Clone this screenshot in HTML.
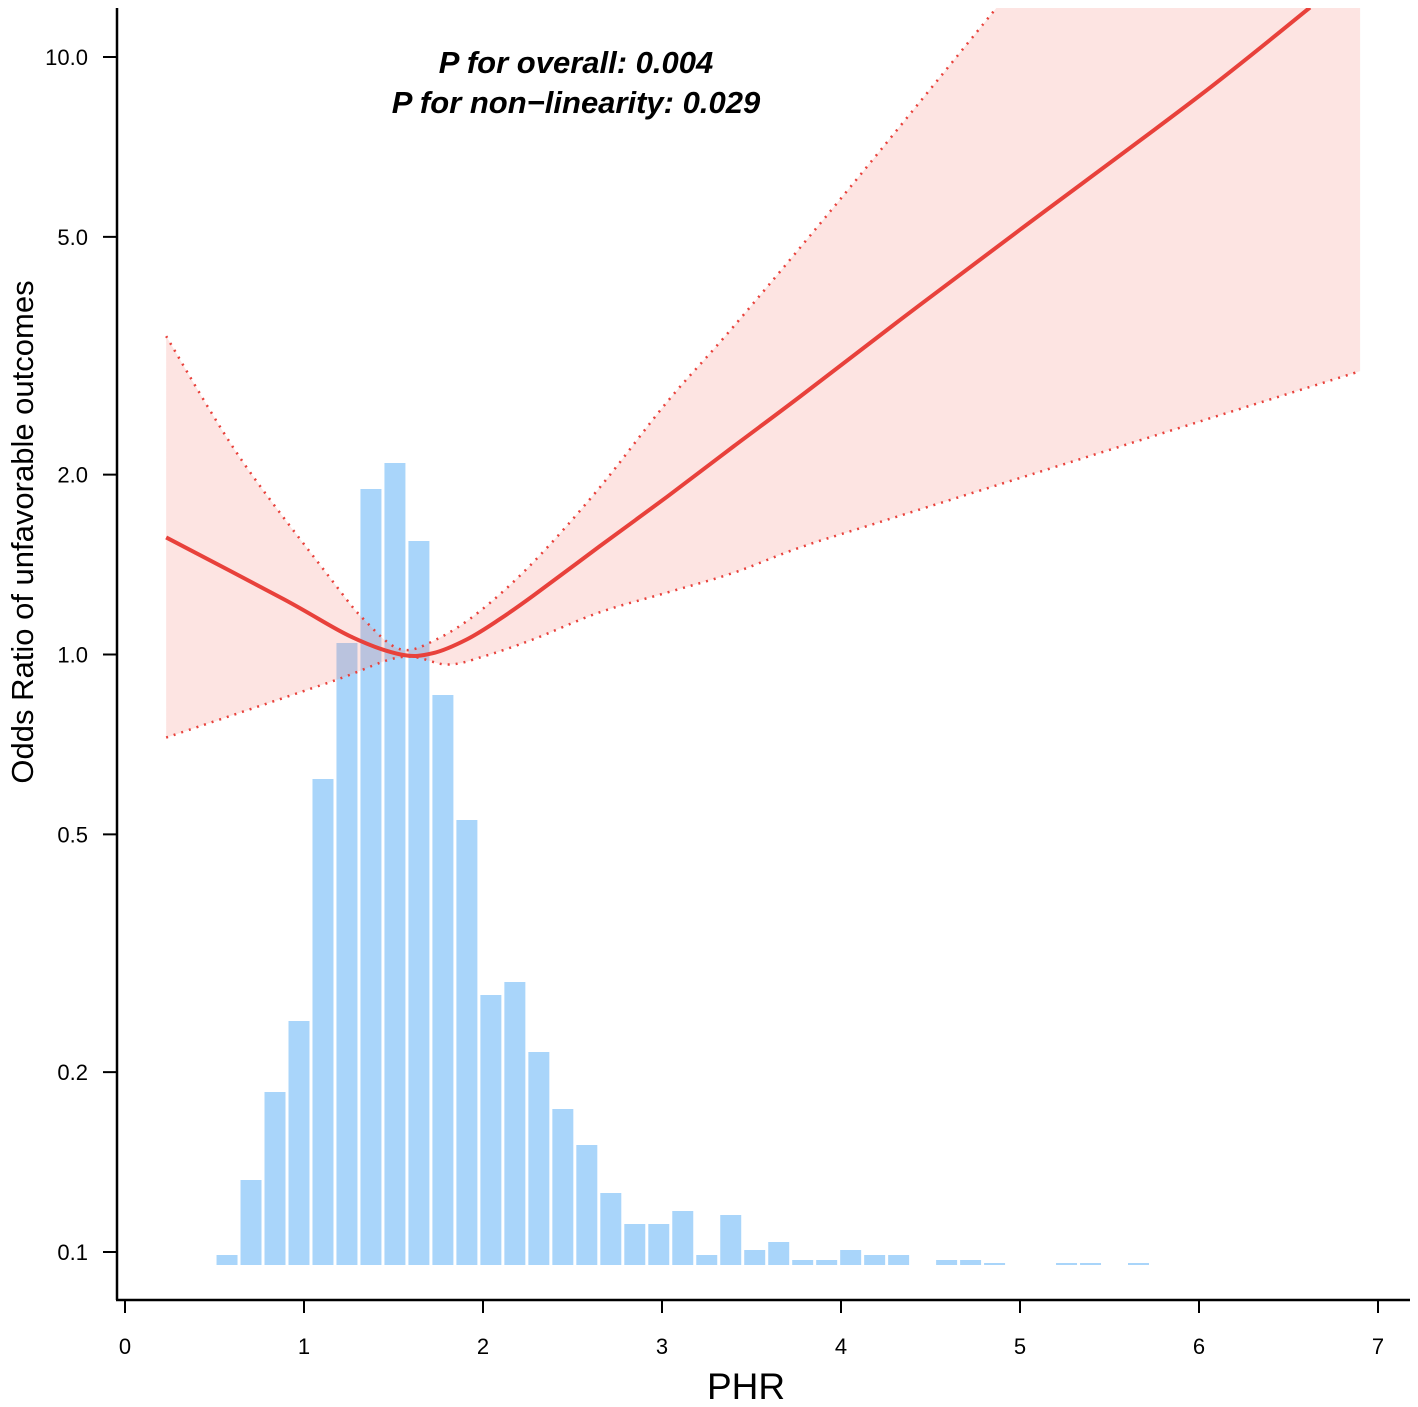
<!DOCTYPE html>
<html><head><meta charset="utf-8"><style>
html,body{margin:0;padding:0;background:#fff;}
svg{display:block;font-family:"Liberation Sans",Arial,sans-serif;}
</style></head><body>
<svg id="chart" width="1418" height="1407" viewBox="0 0 1418 1407">
<defs><clipPath id="plotclip"><rect x="118" y="8" width="1292" height="1290"/></clipPath></defs>
<g id="bars"></g>
<g id="curves" clip-path="url(#plotclip)"></g>
<g id="axes"></g>
<text x="576" y="73" text-anchor="middle" font-size="31" font-weight="bold" font-style="italic">P for overall: 0.004</text>
<text x="576" y="113" text-anchor="middle" font-size="31" font-weight="bold" font-style="italic">P for non−linearity: 0.029</text>
<text x="746" y="1399" text-anchor="middle" font-size="37">PHR</text>
<text transform="translate(33,532) rotate(-90)" text-anchor="middle" font-size="31">Odds Ratio of unfavorable outcomes</text>
</svg>
<script>
const binStart = 0.503;
const binWidth = 0.134;
const binCounts = [10,85,173,244,486,622,776,802,724,570,445,270,283,213,156,120,72,41,41,54,10,50,15,23,5,5,15,10,10,0,5,5,2,0,0,2,2,0,2];
const xTicks = [0,1,2,3,4,5,6,7];
const yTicks = [0.1,0.2,0.5,1.0,2.0,5.0,10.0];
const yTickLabels = ["0.1","0.2","0.5","1.0","2.0","5.0","10.0"];
const curveX = [0.23,0.89,1.26,1.54,1.72,1.91,2.09,2.28,2.65,3.03,3.40,3.77,4.33,5.0,6.0,6.62];
const curveOR = [1.57,1.236,1.072,1.0,1.005,1.06,1.144,1.254,1.516,1.838,2.23,2.70,3.63,5.14,8.6,12.1];
const upperX = [0.23,0.64,1.14,1.34,1.54,1.74,1.98,2.28,2.65,3.03,3.40,4.0,4.87];
const upperOR = [3.41,2.14,1.35,1.14,1.02,1.06,1.18,1.426,1.90,2.65,3.54,5.8,12.1];
const lowerX = [0.23,1.14,1.54,1.80,2.0,2.28,2.65,3.03,3.40,3.77,4.31,6.9];
const lowerOR = [0.726,0.898,0.99,0.962,0.992,1.06,1.176,1.27,1.37,1.51,1.70,2.98];

const NS="http://www.w3.org/2000/svg";
const xs = v => 125 + v*179;
const ys = v => 1252 - Math.log10(v/0.1)*597.5;
const barBase = 1265, barScale = 1.0;
function mk(tag, attrs, parent){const e=document.createElementNS(NS,tag);for(const k in attrs)e.setAttribute(k,attrs[k]);parent.appendChild(e);return e;}

const gb=document.getElementById('bars');
binCounts.forEach((c,i)=>{ if(c<=0) return;
  const x0=xs(binStart+i*binWidth), x1=xs(binStart+(i+1)*binWidth);
  const r=mk('rect',{x:x0+1.5,y:barBase-c*barScale,width:x1-x0-3,height:Math.max(c*barScale,2),fill:'#a9d5fa'},gb);
  
  
});

function smooth(px){
  let d=`M${px[0][0]},${px[0][1]}`;
  for(let i=0;i<px.length-1;i++){
    const p0=px[Math.max(i-1,0)],p1=px[i],p2=px[i+1],p3=px[Math.min(i+2,px.length-1)];
    d+=` C${p1[0]+(p2[0]-p0[0])/6},${p1[1]+(p2[1]-p0[1])/6} ${p2[0]-(p3[0]-p1[0])/6},${p2[1]-(p3[1]-p1[1])/6} ${p2[0]},${p2[1]}`;
  }
  return d;
}
const pts=(X,Y)=>X.map((x,i)=>[xs(x),ys(Y[i])]);
const up=pts(upperX,upperOR), lo=pts(lowerX,lowerOR), mid=pts(curveX,curveOR);
const gc=document.getElementById('curves');
const ribbonD = smooth(up)+` L${xs(6.9)},-200 L${lo[lo.length-1][0]},${lo[lo.length-1][1]} `+smooth(lo.slice().reverse()).replace(/^M/,'L')+' Z';
const rb=mk('path',{d:ribbonD,fill:'rgba(246,130,125,0.22)',stroke:'none'},gc);


const ul=mk('path',{d:smooth(up),fill:'none',stroke:'#e8413b','stroke-width':2.5,'stroke-dasharray':'2 6'},gc);


const ll=mk('path',{d:smooth(lo),fill:'none',stroke:'#e8413b','stroke-width':2.5,'stroke-dasharray':'2 6'},gc);


const ml=mk('path',{d:smooth(mid),fill:'none',stroke:'#e8413b','stroke-width':4},gc);



const ga=document.getElementById('axes');
const ya=mk('line',{x1:117,y1:8,x2:117,y2:1300,stroke:'#000','stroke-width':2.5},ga);


const xa=mk('line',{x1:116,y1:1300,x2:1410,y2:1300,stroke:'#000','stroke-width':2.5},ga);


yTicks.forEach((v,i)=>{
  const y=ys(v);
  const t=mk('line',{x1:103,y1:y,x2:117,y2:y,stroke:'#000','stroke-width':2},ga);
  
  
  const l=mk('text',{x:88,y:y+8,'text-anchor':'end','font-size':22},ga);
  l.textContent=yTickLabels[i];
  
  
});
xTicks.forEach(v=>{
  const x=xs(v);
  const t=mk('line',{x1:x,y1:1300,x2:x,y2:1313,stroke:'#000','stroke-width':2},ga);
  
  
  const l=mk('text',{x:x,y:1354,'text-anchor':'middle','font-size':22},ga);
  l.textContent=String(v);
  
  
});
</script>
</body></html>
